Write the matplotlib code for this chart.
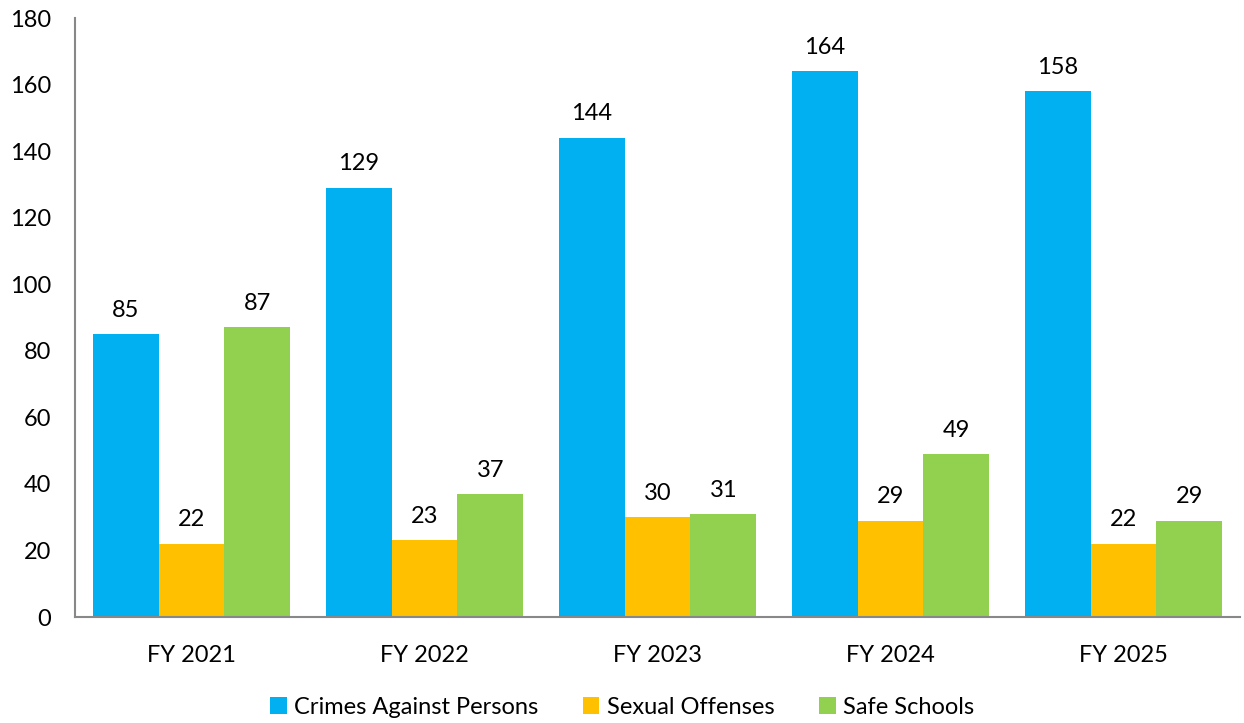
import matplotlib
matplotlib.use("Agg")
from matplotlib import pyplot as plt
import numpy as np

plt.rcParams['font.family'] = ['Lato', 'DejaVu Sans']

years = ['FY 2021', 'FY 2022', 'FY 2023', 'FY 2024', 'FY 2025']
series_names = ['Crimes Against Persons', 'Sexual Offenses', 'Safe Schools']
crimes_persons = [85, 129, 144, 164, 158]
sexual_offenses = [22, 23, 30, 29, 22]
safe_schools = [87, 37, 31, 49, 29]
colors = ['#00B0F0', '#FFC000', '#92D050']

fig = plt.figure(figsize=(12.44, 7.23), dpi=100)
ax = fig.add_axes([0.0603, 0.1466, 0.9365, 0.8285])

x = np.arange(len(years))
w = 0.283
for i, (vals, name, c) in enumerate(zip([crimes_persons, sexual_offenses, safe_schools], series_names, colors)):
    bars = ax.bar(x + (i - 1) * w, vals, w, color=c, label=name)
    for b, v in zip(bars, vals):
        ax.text(b.get_x() + b.get_width() / 2, v + 4, str(v), ha='center', va='bottom', fontsize=17)

ax.set_xlim(-0.5, len(years) - 0.5)
ax.set_ylim(0, 180)
ax.set_yticks(range(0, 181, 20))
ax.set_xticks(x)
ax.set_xticklabels(years)
ax.tick_params(length=0, labelsize=17)
ax.tick_params(axis='y', pad=17)
ax.tick_params(axis='x', pad=20)
for s in ['top', 'right']:
    ax.spines[s].set_visible(False)
for s in ['left', 'bottom']:
    ax.spines[s].set_color('#888888')
    ax.spines[s].set_linewidth(1.5)

fig.legend(loc='center', bbox_to_anchor=(0.5, 0.022), ncol=3, frameon=False, fontsize=17,
           handlelength=0.7, handleheight=0.7, handletextpad=0.3, columnspacing=1.9)

fig.savefig('out.png', dpi=100)
